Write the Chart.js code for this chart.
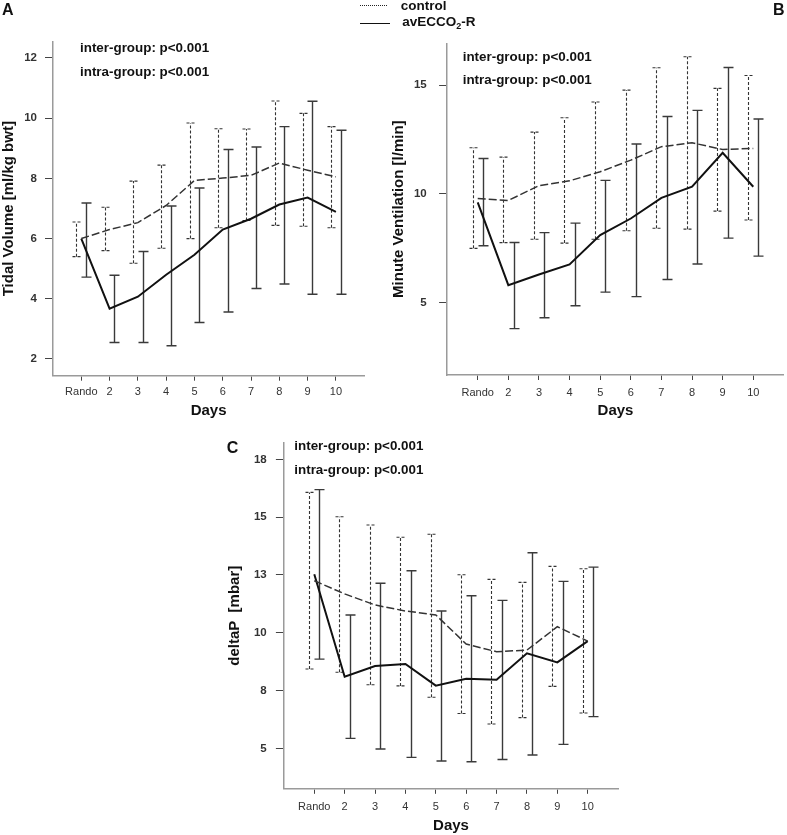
<!DOCTYPE html>
<html>
<head>
<meta charset="utf-8">
<script src="https://cdn.jsdelivr.net/npm/chart.js@4.4.1/dist/chart.umd.min.js"></script>
<style>
html,body{margin:0;padding:0;background:#fff;}
body{width:787px;height:835px;position:relative;overflow:hidden;font-family:"Liberation Sans",Arial,sans-serif;}
canvas{position:absolute;}
.t{position:absolute;font-weight:bold;color:#111;white-space:nowrap;}
.ann{font-size:13.4px;line-height:13.4px;}
.lt{font-size:16px;line-height:16px;}
.lg{font-size:13.5px;line-height:13.5px;}
.smp{position:absolute;height:0;}
</style>
</head>
<body>
<canvas id="cA"></canvas>
<canvas id="cB"></canvas>
<canvas id="cC"></canvas>

<div class="t lt" style="left:2px;top:1.5px">A</div>
<div class="t lt" style="left:773px;top:1.5px">B</div>
<div class="t lt" style="left:226.7px;top:439.8px">C</div>

<div class="smp" style="left:360px;top:4.5px;width:27px;border-top:1.5px dotted #222"></div>
<div class="t lg" style="left:400.7px;top:-1.4px">control</div>
<div class="smp" style="left:360px;top:22.5px;width:30px;border-top:1.5px solid #111"></div>
<div class="t lg" style="left:402.3px;top:15px">avECCO<sub style="font-size:9px;vertical-align:-3px;line-height:0">2</sub>-R</div>

<div class="t ann" style="left:80px;top:41px">inter-group: p&lt;0.001</div>
<div class="t ann" style="left:80px;top:65px">intra-group: p&lt;0.001</div>
<div class="t ann" style="left:462.7px;top:50px">inter-group: p&lt;0.001</div>
<div class="t ann" style="left:462.7px;top:73.3px">intra-group: p&lt;0.001</div>
<div class="t ann" style="left:294.3px;top:438.7px">inter-group: p&lt;0.001</div>
<div class="t ann" style="left:294.3px;top:463.3px">intra-group: p&lt;0.001</div>

<script>
const FONT = '"Liberation Sans", Arial, sans-serif';
const categories = ['Rando','2','3','4','5','6','7','8','9','10'];

// Panel A - Tidal Volume [ml/kg bwt]
const tvControlMean = [6.0, 6.3, 6.53, 7.1, 7.93, 8.01, 8.1, 8.51, 8.27, 8.05];
const tvControlLow  = [5.4, 5.6, 5.18, 5.68, 6.0, 6.36, 6.6, 6.44, 6.41, 6.36];
const tvControlHigh = [6.55, 7.04, 7.91, 8.44, 9.84, 9.65, 9.64, 10.57, 10.16, 9.72];
const tvEccoMean = [6.0, 3.67, 4.07, 4.8, 5.46, 6.3, 6.66, 7.13, 7.36, 6.89];
const tvEccoLow  = [4.72, 2.55, 2.55, 2.44, 3.21, 3.56, 4.34, 4.49, 4.15, 4.15];
const tvEccoHigh = [7.18, 4.78, 5.57, 7.08, 7.68, 8.96, 9.04, 9.72, 10.56, 9.6];
const tvTicks = [2, 4, 6, 8, 10, 12];
const tvTickLabels = ['2', '4', '6', '8', '10', '12'];

// Panel B - Minute Ventilation [l/min]
const mvControlMean = [9.79, 9.70, 10.38, 10.6, 11.02, 11.55, 12.17, 12.35, 12.04, 12.09];
const mvControlLow  = [7.50, 7.76, 7.92, 7.74, 7.92, 8.31, 8.42, 8.38, 9.21, 8.80];
const mvControlHigh = [12.12, 11.69, 12.84, 13.5, 14.22, 14.77, 15.8, 16.3, 14.85, 15.44];
const mvEccoMean = [9.61, 5.81, 6.30, 6.76, 8.11, 8.87, 9.82, 10.33, 11.89, 10.33];
const mvEccoLow  = [7.62, 3.81, 4.31, 4.86, 5.49, 5.28, 6.07, 6.78, 7.97, 7.14];
const mvEccoHigh = [11.63, 7.77, 8.22, 8.66, 10.62, 12.29, 13.56, 13.84, 15.81, 13.44];
const mvTicks = [5, 10, 15];
const mvTickLabels = ['5', '10', '15'];

// Panel C - deltaP [mbar]
const dpControlMean = [12.25, 11.68, 11.2, 10.94, 10.77, 9.51, 9.18, 9.25, 10.26, 9.64];
const dpControlLow  = [8.43, 8.29, 7.75, 7.70, 7.21, 6.51, 6.05, 6.33, 7.68, 6.53];
const dpControlHigh = [16.07, 15.02, 14.66, 14.13, 14.26, 12.51, 12.31, 12.18, 12.87, 12.77];
const dpEccoMean = [12.53, 8.10, 8.56, 8.65, 7.71, 8.01, 7.97, 9.11, 8.72, 9.64];
const dpEccoLow  = [8.86, 5.43, 4.97, 4.61, 4.45, 4.42, 4.52, 4.71, 5.17, 6.37];
const dpEccoHigh = [16.19, 10.77, 12.14, 12.68, 10.94, 11.6, 11.4, 13.46, 12.22, 12.84];
const dpTicks = [5, 7.5, 10, 12.5, 15, 17.5];
const dpTickLabels = ['5', '8', '10', '13', '15', '18'];

const errorBars = {
  id: 'errorBars',
  beforeDatasetsDraw(chart) {
    const ctx = chart.ctx, xs = chart.scales.x, ys = chart.scales.y;
    chart.data.datasets.forEach(ds => {
      ctx.save();
      ctx.strokeStyle = ds.errColor;
      ctx.lineWidth = ds.errWidth;
      ctx.setLineDash(ds.errDash);
      ds.data.forEach((p, i) => {
        const px = Math.round(xs.getPixelForValue(p.x + ds.errShift)) + 0.5;
        const yl = ys.getPixelForValue(ds.errLow[i]);
        const yh = ys.getPixelForValue(ds.errHigh[i]);
        const c = ds.errCap;
        ctx.beginPath();
        ctx.moveTo(px, yl); ctx.lineTo(px, yh);
        ctx.moveTo(px - c, yh); ctx.lineTo(px + c, yh);
        ctx.moveTo(px - c, yl); ctx.lineTo(px + c, yl);
        ctx.stroke();
      });
      ctx.restore();
    });
  }
};

function pts(arr) { return arr.map((v, i) => ({ x: i + 1, y: v })); }

function buildChart(id, g, yc, s) {
  const cv = document.getElementById(id);
  cv.style.left = g.left + 'px';
  cv.style.top = g.top + 'px';
  cv.width = g.width; cv.height = g.height;
  const yW = g.plotLeft - g.left;
  const xH = g.top + g.height - g.plotBottom;
  return new Chart(cv, {
    type: 'line',
    data: {
      datasets: [
        { label: 'control', data: pts(s.cMean), borderColor: '#333', borderWidth: 1.5, borderDash: [8, 3],
          pointRadius: 0, tension: 0, fill: false,
          errLow: s.cLow, errHigh: s.cHigh, errShift: -0.17, errColor: '#333', errWidth: 1.1, errDash: [3, 2], errCap: 4 },
        { label: 'avECCO2-R', data: pts(s.eMean), borderColor: '#111', borderWidth: 2,
          pointRadius: 0, tension: 0, fill: false,
          errLow: s.eLow, errHigh: s.eHigh, errShift: 0.17, errColor: '#3a3a3a', errWidth: 1.4, errDash: [], errCap: 5 }
      ]
    },
    options: {
      responsive: false, animation: false, devicePixelRatio: 1,
      layout: { padding: { left: 0, top: g.plotTop - g.top, right: g.left + g.width - g.plotRight, bottom: 0 } },
      plugins: { legend: { display: false }, tooltip: { enabled: false } },
      scales: {
        x: {
          type: 'linear', position: 'bottom', min: 0, max: 11,
          afterBuildTicks: sc => { sc.ticks = categories.map((c, i) => ({ value: i + 1 })); },
          afterFit: sc => { sc.height = xH; },
          ticks: { autoSkip: false, maxRotation: 0, minRotation: 0, padding: g.xPad, color: '#333',
                   font: { family: FONT, size: 11 }, callback: (v, i) => categories[i] },
          grid: { drawOnChartArea: false, drawTicks: true, tickLength: 5, color: '#444', lineWidth: 1 },
          border: { display: true, color: '#9a9a9a', width: 1.5 },
          title: { display: true, text: 'Days', color: '#111', font: { family: FONT, size: 15, weight: 'bold' },
                   padding: { top: 0, bottom: 0 } }
        },
        y: {
          type: 'linear', position: 'left', min: yc.min, max: yc.max,
          afterBuildTicks: sc => { sc.ticks = yc.ticks.map(v => ({ value: v })); },
          afterFit: sc => { sc.width = yW; },
          ticks: { padding: g.yPad, color: '#333', font: { family: FONT, size: 11.5, weight: 'bold' },
                   callback: (v, i) => yc.labels[i] },
          grid: { drawOnChartArea: false, drawTicks: true, tickLength: 8, color: '#444', lineWidth: 1 },
          border: { display: true, color: '#9a9a9a', width: 1.5 },
          title: { display: true, text: yc.title, color: '#111', font: { family: FONT, size: 15, weight: 'bold' },
                   padding: { top: g.yTitlePad, bottom: 0 } }
        }
      }
    },
    plugins: [errorBars]
  });
}

buildChart('cA',
  { left: 0, top: 0, width: 380, height: 420, plotLeft: 53, plotTop: 41.7, plotRight: 364.2, plotBottom: 375.7, xPad: 5, yPad: 8, yTitlePad: 0 },
  { min: 1.445, max: 12.54, ticks: tvTicks, labels: tvTickLabels, title: 'Tidal Volume [ml/kg bwt]' },
  { cMean: tvControlMean, cLow: tvControlLow, cHigh: tvControlHigh, eMean: tvEccoMean, eLow: tvEccoLow, eHigh: tvEccoHigh });

buildChart('cB',
  { left: 385, top: 0, width: 402, height: 420, plotLeft: 447.1, plotTop: 43.3, plotRight: 783.9, plotBottom: 375, xPad: 6, yPad: 12.4, yTitlePad: 5 },
  { min: 1.68, max: 16.92, ticks: mvTicks, labels: mvTickLabels, title: 'Minute Ventilation [l/min]' },
  { cMean: mvControlMean, cLow: mvControlLow, cHigh: mvControlHigh, eMean: mvEccoMean, eLow: mvEccoLow, eHigh: mvEccoHigh });

buildChart('cC',
  { left: 215, top: 425, width: 420, height: 410, plotLeft: 283.9, plotTop: 442.7, plotRight: 618.1, plotBottom: 788.8, xPad: 6.6, yPad: 9.2, yTitlePad: 11 },
  { min: 3.25, max: 18.22, ticks: dpTicks, labels: dpTickLabels, title: 'deltaP  [mbar]' },
  { cMean: dpControlMean, cLow: dpControlLow, cHigh: dpControlHigh, eMean: dpEccoMean, eLow: dpEccoLow, eHigh: dpEccoHigh });
</script>
</body>
</html>
